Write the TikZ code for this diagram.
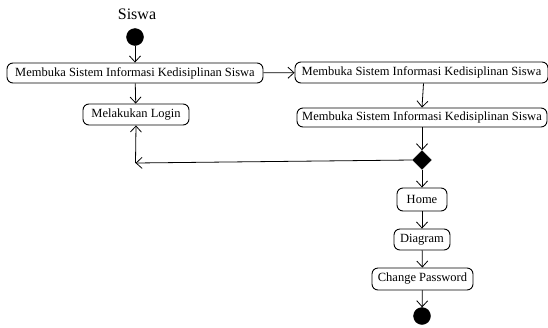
\documentclass[tikz,border=0pt]{standalone}
\usepackage{fontspec}
\setmainfont{Liberation Serif}
\usetikzlibrary{arrows.meta,shapes.geometric}
\begin{document}
\begin{tikzpicture}[x=1pt,y=-1pt,
  act/.style={draw, rounded corners=6pt, line width=0.9pt, inner sep=0pt, align=center, font=\fontsize{12.5}{14}\selectfont},
  flow/.style={draw, line width=0.8pt, -{Straight Barb[length=6pt,width=11pt,line width=0.8pt]}},
  dot/.style={circle, fill=black, draw=black, minimum size=17pt, inner sep=0pt},
  dec/.style={diamond, fill=black, draw=black, minimum width=19pt, minimum height=19pt, inner sep=0pt}]
\useasboundingbox (0,0) rectangle (548,327);
\node (title) at (137,14) {\fontsize{16}{18}\selectfont Siswa};
\node[dot] (start) at (135,37) {};
\node[act, minimum width=256pt, minimum height=20pt] (a1) at (135,73) {Membuka Sistem Informasi Kedisiplinan Siswa};
\node[act, minimum width=106pt, minimum height=21pt] (login) at (136,114.5) {Melakukan Login};
\node[act, minimum width=253pt, minimum height=21pt] (a2) at (421.5,72.5) {Membuka Sistem Informasi Kedisiplinan Siswa};
\node[act, minimum width=250pt, minimum height=19pt] (a3) at (422,117.5) {Membuka Sistem Informasi Kedisiplinan Siswa};
\node[dec] (d) at (422,160) {};
\coordinate (corner) at (135.5,163);
\node[act, minimum width=50pt, minimum height=23pt] (home) at (422,199.5) {Home};
\node[act, minimum width=56pt, minimum height=21pt] (diag) at (422,239.5) {Diagram};
\node[act, minimum width=101pt, minimum height=22pt] (cp) at (422.5,279) {Change Password};
\node[dot] (end) at (422,316) {};
\draw[flow] (start) -- (a1);
\draw[flow] (a1) -- (login);
\draw[flow] (a1) -- (a2);
\draw[flow] ([xshift=2pt]a2.south) -- (a3.north);
\draw[flow] (a3) -- (d);
\draw[flow] (d.west) -- (corner);
\draw[flow] (corner) -- (login.south);
\draw[flow] (d) -- (home);
\draw[flow] (home) -- (diag);
\draw[flow] (diag) -- (cp);
\draw[flow] (cp) -- (end);
\end{tikzpicture}
\end{document}
